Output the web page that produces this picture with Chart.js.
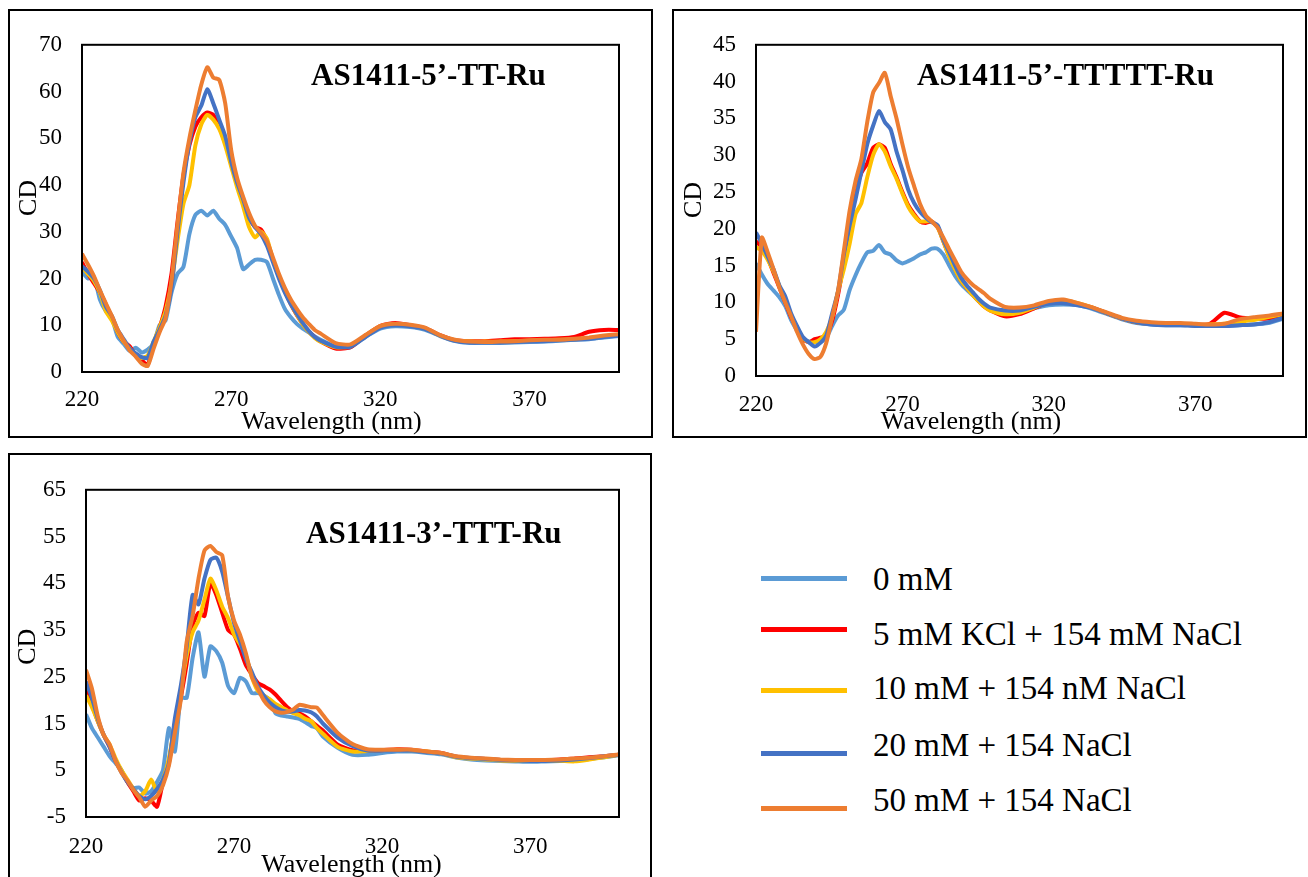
<!DOCTYPE html>
<html>
<head>
<meta charset="utf-8">
<script src="https://cdn.jsdelivr.net/npm/chart.js@4.4.0/dist/chart.umd.min.js"></script>
<style>
  html, body { margin: 0; padding: 0; background: #fff; }
  body { width: 1308px; height: 877px; position: relative; overflow: hidden; font-family: "Liberation Serif", "Times New Roman", serif; }
  .box { position: absolute; border: 2px solid #000; box-sizing: border-box; }
  canvas { position: absolute; }
  .key-line { position: absolute; height: 5px; }
  .key-text { position: absolute; font-size: 33px; line-height: 33px; color: #000; white-space: nowrap; }
</style>
</head>
<body>
<div class="box" style="left:8px;top:9px;width:645px;height:429px"></div>
<div class="box" style="left:672px;top:9px;width:635px;height:429px"></div>
<div class="box" style="left:8px;top:453px;width:644px;height:440px"></div>
<canvas id="cTT" width="642" height="425" style="left:10px;top:11px"></canvas>
<canvas id="cTTTTT" width="629" height="425" style="left:675px;top:11px"></canvas>
<canvas id="cTTT" width="640" height="421" style="left:10px;top:456px"></canvas>
<div id="key"></div>
<script>
"use strict";

// wavelength grid (nm), shared by all three panels
const wavelength = [
  220, 222, 224, 226, 228, 230, 232, 234, 236, 238,
  240, 242, 244, 246, 248, 250, 252, 254, 256, 258,
  260, 262, 264, 266, 268, 270, 272, 274, 276, 278,
  280, 282, 284, 286, 288, 290, 292, 294, 296, 298,
  300, 305, 310, 315, 320, 325, 330, 335, 340, 345,
  350, 355, 360, 365, 370, 375, 380, 385, 390, 395, 400,
];

const seriesLabels = [
  "0 mM",
  "5 mM KCl + 154 mM NaCl",
  "10 mM + 154 nM NaCl",
  "20 mM + 154 NaCl",
  "50 mM + 154 NaCl",
];

const xTicks = [220, 270, 320, 370];

// --- AS1411-5'-TT-Ru ---
const tt_0 = [
  21.5, 20.0, 20.3, 15.5, 13.0, 11.5, 7.5, 6.0, 4.5, 5.2,
  4.2, 4.8, 6.0, 10.0, 11.0, 17.0, 21.0, 22.5, 29.5, 33.6,
  34.5, 33.5, 34.5, 32.8, 31.5, 29.0, 26.5, 22.0, 23.0, 24.0,
  24.0, 23.5, 20.0, 16.5, 13.5, 11.7, 10.3, 9.3, 8.5, 7.6,
  6.9, 5.4, 5.3, 7.5, 9.3, 9.8, 9.6, 9.0, 7.7, 6.6,
  6.2, 6.2, 6.2, 6.3, 6.4, 6.5, 6.7, 6.9, 7.0, 7.4, 7.7,
];
const tt_5 = [
  23.5, 21.0, 19.0, 17.0, 14.5, 11.5, 8.5, 6.5, 5.5, 3.5,
  2.5, 1.5, 6.0, 9.5, 14.0, 21.0, 32.0, 42.0, 48.5, 52.5,
  54.5, 55.5, 55.0, 52.5, 49.0, 45.0, 40.5, 36.5, 33.0, 31.0,
  30.5, 28.0, 24.0, 20.5, 17.5, 14.5, 12.2, 10.3, 8.7, 7.5,
  6.5, 5.0, 5.3, 7.8, 9.9, 10.5, 10.0, 9.4, 7.9, 6.8,
  6.6, 6.6, 6.8, 7.0, 7.0, 7.1, 7.2, 7.5, 8.6, 9.0, 9.0,
];
const tt_10 = [
  22.5, 21.0, 19.5, 17.0, 13.0, 11.0, 8.5, 6.5, 5.0, 3.5,
  3.0, 3.5, 6.5, 9.5, 13.0, 19.0, 28.0, 36.0, 40.0, 48.5,
  53.0, 55.0, 54.0, 52.0, 48.5, 44.0, 39.5, 35.5, 31.0, 28.8,
  30.0, 28.5, 24.0, 20.5, 17.3, 14.6, 12.3, 10.2, 8.6, 7.3,
  6.5, 5.3, 5.5, 7.8, 9.8, 10.2, 9.9, 9.3, 7.8, 6.8,
  6.5, 6.5, 6.5, 6.6, 6.7, 6.8, 6.9, 7.0, 7.3, 7.6, 8.0,
];
const tt_20 = [
  22.6, 21.5, 20.0, 17.5, 14.0, 12.0, 9.0, 7.0, 5.0, 4.0,
  3.2, 3.0, 6.5, 9.0, 12.0, 18.0, 30.0, 40.5, 49.0, 54.5,
  57.0, 60.5, 57.5, 54.0, 50.5, 45.0, 40.5, 37.0, 33.0, 31.0,
  29.5, 27.0, 23.5, 20.0, 17.0, 14.5, 12.5, 10.5, 8.8, 7.5,
  6.7, 5.4, 5.4, 7.5, 9.5, 10.0, 9.8, 9.2, 7.8, 6.7,
  6.3, 6.3, 6.3, 6.4, 6.5, 6.6, 6.8, 6.9, 7.1, 7.5, 7.8,
];
const tt_50 = [
  25.3, 23.0, 20.5, 17.5, 14.7, 12.0, 9.0, 6.7, 4.6, 3.3,
  1.8, 1.3, 5.0, 8.5, 11.5, 19.5, 31.5, 42.6, 50.0, 56.0,
  61.5, 65.2, 63.0, 62.5, 57.5, 47.5, 41.5, 37.5, 34.0, 31.3,
  29.8, 28.0, 24.5, 21.0, 18.0, 15.5, 13.5, 11.7, 10.3, 9.0,
  8.2, 6.2, 5.9, 7.9, 9.8, 10.3, 10.1, 9.5, 7.9, 6.9,
  6.5, 6.4, 6.5, 6.6, 6.8, 6.9, 6.9, 7.1, 7.4, 7.8, 8.1,
];
const ttYTicks = [0, 10, 20, 30, 40, 50, 60, 70];

// --- AS1411-5'-TTTTT-Ru ---
const ttttt_0 = [
  15.3, 13.8, 12.5, 11.6, 10.7, 9.5, 7.6, 6.2, 5.0, 4.7,
  4.6, 4.6, 5.2, 6.8, 8.2, 9.0, 11.7, 13.7, 15.4, 16.8,
  17.0, 17.8, 16.8, 16.5, 15.7, 15.3, 15.6, 16.0, 16.5, 16.8,
  17.3, 17.3, 16.5, 15.0, 13.6, 12.5, 11.7, 11.0, 10.2, 9.5,
  9.1, 8.9, 8.9, 9.2, 9.6, 9.7, 9.6, 9.1, 8.4, 7.7,
  7.2, 7.0, 6.9, 6.9, 6.9, 6.8, 6.8, 6.9, 7.0, 7.2, 7.8,
];
const ttttt_5 = [
  18.3, 17.5, 16.0, 14.0, 12.0, 10.0, 8.0, 6.5, 5.0, 4.6,
  5.0, 5.2, 5.5, 7.5, 11.0, 15.5, 20.8, 25.0, 27.6, 28.9,
  31.0, 31.5, 31.0, 28.8, 27.0, 25.0, 23.2, 22.0, 21.0, 20.8,
  21.0, 20.3, 18.3, 16.3, 14.6, 13.0, 12.0, 11.1, 10.2, 9.4,
  8.9, 8.1, 8.4, 9.2, 10.0, 10.2, 9.8, 9.3, 8.5, 7.8,
  7.3, 7.1, 7.0, 7.0, 6.9, 7.1, 8.6, 8.0, 7.8, 7.8, 8.2,
];
const ttttt_10 = [
  17.5, 17.0, 15.8, 14.2, 12.2, 10.2, 8.3, 6.6, 5.2, 4.6,
  4.6, 5.0, 6.0, 8.0, 11.5, 14.5, 18.0, 22.0, 23.5, 27.0,
  30.0, 31.5, 30.5, 28.5, 26.8, 24.8, 23.0, 21.8, 21.0, 21.0,
  21.0, 20.2, 18.3, 16.2, 14.5, 13.0, 12.0, 11.0, 10.2, 9.4,
  8.9, 8.4, 8.6, 9.3, 10.1, 10.3, 9.9, 9.3, 8.5, 7.8,
  7.3, 7.1, 7.0, 7.0, 6.9, 7.0, 7.1, 7.4, 7.6, 8.0, 8.4,
];
const ttttt_20 = [
  19.5, 18.0, 16.2, 14.5, 12.3, 10.8, 8.5, 6.8, 5.3, 4.6,
  4.0, 4.5, 5.5, 8.5, 11.5, 16.5, 20.5, 24.0, 27.8, 31.5,
  34.0, 36.0, 34.5, 33.5, 30.5, 28.0, 25.3, 23.5, 22.3, 21.5,
  20.9, 20.5, 18.5, 16.8, 15.0, 13.4, 12.3, 11.4, 10.5, 9.8,
  9.3, 8.9, 8.9, 9.4, 9.8, 9.9, 9.6, 9.2, 8.5, 7.8,
  7.3, 7.0, 6.9, 6.9, 6.8, 6.8, 6.8, 6.9, 7.0, 7.3, 7.9,
];
const ttttt_50 = [
  6.0, 18.8, 16.8, 14.5, 12.0, 10.0, 8.1, 6.0, 4.3, 3.0,
  2.3, 2.6, 4.5, 8.0, 11.5, 17.0, 22.5, 26.5, 29.5, 34.5,
  38.5, 39.8, 41.2, 38.0, 35.0, 31.5, 28.3, 25.8, 23.4, 21.8,
  21.0, 20.2, 18.8, 17.2, 15.7, 14.2, 13.2, 12.4, 11.8, 11.2,
  10.5, 9.4, 9.3, 9.6, 10.2, 10.4, 9.9, 9.3, 8.6, 7.9,
  7.5, 7.3, 7.2, 7.2, 7.1, 7.0, 7.1, 7.7, 8.0, 8.2, 8.5,
];
const tttttYTicks = [0, 5, 10, 15, 20, 25, 30, 35, 40, 45];

// --- AS1411-3'-TTT-Ru ---
const ttt_0 = [
  17.0, 14.0, 12.0, 10.0, 8.0, 6.5, 5.0, 2.5, 1.2, 1.3,
  0.0, 0.5, 2.5, 5.0, 14.0, 9.0, 20.5, 20.5, 29.0, 34.5,
  25.0, 31.5, 30.5, 28.0, 23.0, 21.5, 24.8, 24.0, 21.5, 21.5,
  21.0, 20.0, 17.2, 16.7, 16.5, 16.3, 16.0, 15.3, 14.5, 14.0,
  12.2, 9.8, 8.3, 8.3, 8.7, 9.0, 9.0, 8.7, 8.4, 7.7,
  7.3, 7.1, 7.0, 6.9, 6.8, 6.9, 7.0, 7.1, 7.4, 7.8, 8.2,
];
const ttt_5 = [
  22.0, 19.0, 15.5, 12.5, 10.0, 7.0, 4.8, 2.5, 0.5, -1.5,
  -1.0, -1.5, -2.8, 2.5, 7.0, 14.5, 20.5, 27.8, 36.0, 38.7,
  38.0, 45.0, 42.5, 38.7, 35.0, 34.0, 31.0, 27.5, 25.5, 23.7,
  23.0, 22.3, 21.2, 19.8, 18.5, 17.6, 17.2, 16.5, 15.5, 14.5,
  13.5, 10.5, 9.3, 9.2, 9.3, 9.5, 9.4, 9.0, 8.7, 7.9,
  7.6, 7.4, 7.2, 7.1, 7.1, 7.1, 7.3, 7.5, 7.8, 8.0, 8.3,
];
const ttt_10 = [
  21.0, 18.5, 15.5, 12.5, 10.5, 7.5, 5.0, 3.0, 1.0, -0.5,
  0.5, 3.0, 0.5, 3.0, 7.5, 15.0, 22.0, 29.5, 34.5, 37.0,
  41.5, 46.0, 43.5, 40.0, 37.5, 34.0, 32.0, 29.5, 25.0, 22.0,
  21.0, 20.2, 19.2, 18.5, 17.8, 17.2, 16.8, 16.0, 15.5, 14.0,
  12.8, 10.0, 9.0, 9.1, 9.3, 9.4, 9.3, 9.0, 8.6, 7.8,
  7.5, 7.3, 7.1, 7.0, 7.0, 7.0, 7.0, 6.9, 7.3, 7.8, 8.3,
];
const ttt_20 = [
  24.0, 20.5, 16.0, 12.5, 10.0, 7.0, 4.5, 2.5, 1.0, -0.5,
  -1.2, -0.5, 1.0, 3.0, 6.5, 16.0, 23.0, 31.5, 42.5, 40.5,
  46.0, 50.0, 50.5, 47.5, 42.0, 36.5, 32.6, 28.8, 26.0, 23.0,
  21.0, 19.5, 18.5, 17.8, 17.5, 17.6, 17.9, 17.8, 17.4, 16.5,
  15.0, 12.0, 10.2, 9.2, 9.2, 9.3, 9.2, 8.9, 8.6, 7.9,
  7.6, 7.4, 7.2, 7.1, 7.0, 7.0, 7.1, 7.3, 7.6, 8.0, 8.3,
];
const ttt_50 = [
  26.5, 22.5, 16.5, 12.5, 10.5, 7.0, 4.5, 2.8, 0.8, -0.8,
  -2.8, -1.5, -0.5, 1.8, 6.0, 13.0, 20.0, 32.5, 38.0, 46.0,
  52.0, 53.0, 51.7, 51.0, 42.0, 37.0, 34.0, 30.0, 25.0, 22.5,
  20.0, 18.5, 17.6, 17.3, 17.5, 18.0, 19.0, 18.8, 18.5, 18.4,
  16.8, 13.0, 10.6, 9.5, 9.4, 9.4, 9.4, 9.0, 8.7, 8.0,
  7.7, 7.5, 7.3, 7.2, 7.2, 7.2, 7.3, 7.5, 7.7, 8.0, 8.4,
];
const tttYTicks = [-5, 5, 15, 25, 35, 45, 55, 65];

const seriesColors = ["#5B9BD5", "#FF0000", "#FFC000", "#4472C4", "#ED7D31"];
const FONT = '"Liberation Serif", "Times New Roman", serif';

// plot box border + panel title + axis titles
const framePlugin = {
  id: "frame",
  afterDatasetsDraw(chart, args, o) {
    const { ctx, chartArea: a } = chart;
    ctx.save();
    ctx.strokeStyle = "#000";
    ctx.lineWidth = 2;
    ctx.strokeRect(a.left, a.top, a.right - a.left, a.bottom - a.top);
    ctx.fillStyle = "#000";
    ctx.font = "bold 31px " + FONT;
    ctx.textAlign = "left";
    ctx.textBaseline = "alphabetic";
    ctx.fillText(o.title, o.titleX, o.titleY);
    ctx.font = "26px " + FONT;
    ctx.textAlign = "center";
    ctx.textBaseline = "middle";
    ctx.fillText("Wavelength (nm)", o.xTitleX, o.xTitleY);
    ctx.translate(o.yTitleX, o.yTitleY);
    ctx.rotate(-Math.PI / 2);
    ctx.fillText("CD", 0, 0);
    ctx.restore();
  },
};

function makePanel(id, series, yTicks, box, frame) {
  const datasets = series.map((vals, i) => ({
    label: seriesLabels[i],
    data: wavelength.map((x, j) => ({ x, y: vals[j] })),
    borderColor: seriesColors[i],
    borderWidth: 4,
    pointRadius: 0,
    tension: 0.2,
    fill: false,
    clip: 0,
    order: series.length - 1 - i, // 0 mM at the back, 50 mM in front
  }));
  const tickFont = { family: FONT, size: 23 };
  return new Chart(document.getElementById(id), {
    type: "line",
    data: { datasets },
    options: {
      responsive: false,
      animation: false,
      devicePixelRatio: 1,
      layout: { padding: { left: 0, top: box.top, right: box.right, bottom: 0 } },
      plugins: { legend: { display: false }, tooltip: { enabled: false }, frame },
      scales: {
        x: {
          type: "linear",
          min: 220,
          max: 400,
          grid: { display: false, drawTicks: false },
          border: { display: false },
          afterBuildTicks: (s) => { s.ticks = xTicks.map((v) => ({ value: v })); },
          afterFit: (s) => { s.height = box.xh; },
          ticks: { font: tickFont, color: "#000", padding: box.xpad, maxRotation: 0, autoSkip: false },
        },
        y: {
          type: "linear",
          min: yTicks[0],
          max: yTicks[yTicks.length - 1],
          grid: { display: false, drawTicks: false },
          border: { display: false },
          afterBuildTicks: (s) => { s.ticks = yTicks.map((v) => ({ value: v })); },
          afterFit: (s) => { s.width = box.yw; },
          ticks: { font: tickFont, color: "#000", padding: 20, autoSkip: false },
        },
      },
    },
    plugins: [framePlugin],
  });
}

makePanel("cTT", [tt_0, tt_5, tt_10, tt_20, tt_50], ttYTicks,
  { top: 13, right: 33, xh: 64, yw: 72, xpad: 14 },
  { title: "AS1411-5\u2019-TT-Ru", titleX: 301, titleY: 74, xTitleX: 321.5, xTitleY: 410.7, yTitleX: 19.5, yTitleY: 187 });

makePanel("cTTTTT", [ttttt_0, ttttt_5, ttttt_10, ttttt_20, ttttt_50], tttttYTicks,
  { top: 13, right: 21, xh: 60, yw: 81, xpad: 15 },
  { title: "AS1411-5\u2019-TTTTT-Ru", titleX: 242, titleY: 74, xTitleX: 296, xTitleY: 410.7, yTitleX: 19.5, yTitleY: 189 });

makePanel("cTTT", [ttt_0, ttt_5, ttt_10, ttt_20, ttt_50], tttYTicks,
  { top: 19, right: 31, xh: 60, yw: 76, xpad: 16 },
  { title: "AS1411-3\u2019-TTT-Ru", titleX: 296, titleY: 87, xTitleX: 341.5, xTitleY: 409, yTitleX: 18.6, yTitleY: 190.7 });

// shared legend, built from the series labels
const keyEl = document.getElementById("key");
const keyLineY = [578, 629, 690, 753, 808];
const keyTextBase = [591, 646, 700, 757, 812];
seriesLabels.forEach((label, i) => {
  const line = document.createElement("div");
  line.className = "key-line";
  line.style.cssText = `left:761px;width:86px;top:${keyLineY[i] - 2.5}px;background:${seriesColors[i]}`;
  keyEl.appendChild(line);
  const txt = document.createElement("div");
  txt.className = "key-text";
  txt.style.cssText = `left:873px;top:${keyTextBase[i] - 28}px`;
  txt.textContent = label;
  keyEl.appendChild(txt);
});
</script>
</body>
</html>
